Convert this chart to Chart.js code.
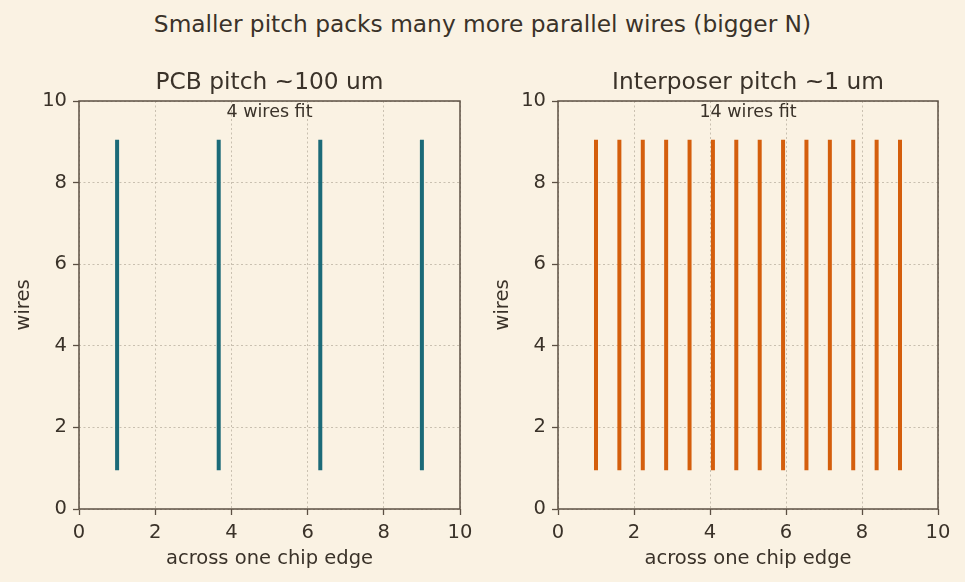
<!DOCTYPE html>
<html>
<head>
<meta charset="utf-8">
<script src="https://cdn.jsdelivr.net/npm/chart.js@4.4.1/dist/chart.umd.min.js"></script>
<style>
  html, body { margin: 0; padding: 0; background: #faf2e3; }
  body { width: 965px; height: 582px; position: relative; overflow: hidden; font-family: "DejaVu Sans", sans-serif; }
  #suptitle { position: absolute; top: 10px; left: 0; width: 965px; text-align: center; font-size: 23.3px; color: #3a3229; }
  .box { position: absolute; top: 0; height: 582px; }
</style>
</head>
<body>
<div id="suptitle">Smaller pitch packs many more parallel wires (bigger N)</div>
<div class="box" style="left:0;width:482px"><canvas id="pcbChart" width="482" height="582"></canvas></div>
<div class="box" style="left:482px;width:483px"><canvas id="interChart" width="483" height="582"></canvas></div>
<script>
// wire positions
const pcbWires = [1, 3.667, 6.333, 9];
const interposerWires = [1, 1.615, 2.231, 2.846, 3.462, 4.077, 4.692, 5.308, 5.923, 6.538, 7.154, 7.769, 8.385, 9];
const wireBottom = 1;
const wireTop = 9;
const axisTicks = [0, 2, 4, 6, 8, 10];

const textColor = '#3a3229';
const axisColor = '#5c5044';
const gridColor = '#c9c0b0';
const font = 'DejaVu Sans';

// frame, subplot title and the "n wires fit" note
const framePlugin = {
  id: 'frame',
  afterDraw(chart, args, opts) {
    const { ctx, chartArea: a, scales } = chart;
    ctx.save();
    ctx.strokeStyle = axisColor;
    ctx.lineWidth = 1.5;
    ctx.strokeRect(a.left, a.top, a.right - a.left, a.bottom - a.top);
    ctx.fillStyle = textColor;
    ctx.textAlign = 'center';
    ctx.textBaseline = 'alphabetic';
    ctx.font = '23.3px "' + font + '"';
    ctx.fillText(opts.title, (a.left + a.right) / 2, a.top - 12);
    ctx.font = '17.5px "' + font + '"';
    ctx.fillText(opts.note, scales.x.getPixelForValue(5), scales.y.getPixelForValue(9.6));
    ctx.restore();
  }
};

function makeChart(id, wires, color, title, padLeft, padRight) {
  const datasets = wires.map(x => ({
    data: [{ x: x, y: wireBottom }, { x: x, y: wireTop }],
    borderColor: color,
    borderWidth: 4,
    borderCapStyle: 'square',
    pointRadius: 0,
    fill: false
  }));

  const axis = (label, vertical) => ({
    type: 'linear',
    min: 0,
    max: 10,
    afterBuildTicks: s => { s.ticks = axisTicks.map(v => ({ value: v })); },
    afterFit: s => { if (vertical) s.width = 70; else s.height = 62; },
    grid: {
      color: gridColor,
      lineWidth: 1,
      tickLength: 6,
      tickColor: axisColor,
      tickWidth: 1.3,
      tickBorderDash: []
    },
    border: { display: false, dash: [2, 2.5] },
    ticks: { color: textColor, font: { family: font, size: 19.5 }, padding: 6 },
    title: {
      display: true,
      text: label,
      color: textColor,
      font: { family: font, size: 19.5 },
      padding: vertical ? { top: 3, bottom: 0 } : { top: 0, bottom: 0 }
    }
  });

  return new Chart(document.getElementById(id).getContext('2d'), {
    type: 'line',
    data: { datasets: datasets },
    plugins: [framePlugin],
    options: {
      responsive: false,
      animation: false,
      layout: { padding: { left: padLeft, right: padRight, top: 101, bottom: 11 } },
      plugins: {
        legend: { display: false },
        tooltip: { enabled: false },
        frame: { title: title, note: wires.length + ' wires fit' }
      },
      scales: {
        x: axis('across one chip edge', false),
        y: axis('wires', true)
      }
    }
  });
}

makeChart('pcbChart', pcbWires, '#1b6a78', 'PCB pitch ~100 um', 9, 22);
makeChart('interChart', interposerWires, '#d45e0c', 'Interposer pitch ~1 um', 6, 27);
</script>
</body>
</html>
